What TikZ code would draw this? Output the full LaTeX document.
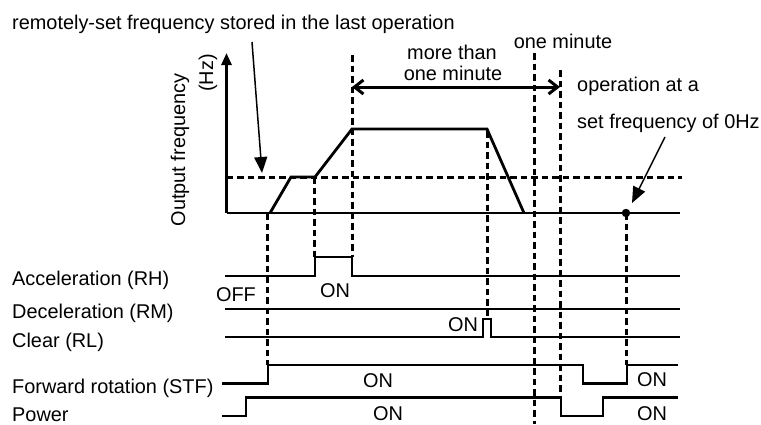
\documentclass[tikz,border=0pt]{standalone}
\usepackage{fontspec}
\setmainfont{Liberation Sans}
\usetikzlibrary{arrows.meta}
\begin{document}
\begin{tikzpicture}[x=1pt,y=-1pt,
  font=\fontsize{19.9}{24}\selectfont,
  sig/.style={line width=2.8pt, line join=miter, line cap=butt},
  guide/.style={line width=3pt, dash pattern=on 6.5pt off 4pt},
  lbl/.style={inner sep=0pt, anchor=base west},
  clbl/.style={inner sep=0pt, anchor=base},
  note/.style={line width=1.5pt, -{Triangle[length=16pt,width=13pt]}},
  span/.style={line width=3pt, {Straight Barb[length=9pt,width=14pt]}-{Straight Barb[length=9pt,width=14pt]}}]
\useasboundingbox (0,0) rectangle (761,424);

% ---- text labels
\node[lbl] (title) at (12,29.5) {remotely-set frequency stored in the last operation};
\node[lbl] (acc) at (12,285) {Acceleration (RH)};
\node[lbl] (dec) at (12,318) {Deceleration (RM)};
\node[lbl] (clr) at (12,347) {Clear (RL)};
\node[lbl] (stf) at (12,393) {Forward rotation (STF)};
\node[lbl] (pwr) at (12,421) {Power};
\node[clbl] (off) at (236,301) {OFF};
\node[clbl] (onacc) at (335,297) {ON};
\node[clbl] (onclr) at (463,331) {ON};
\node[clbl] (onstf) at (378,387) {ON};
\node[clbl] (onpwr) at (388,420) {ON};
\node[clbl] (onstf2) at (652,386) {ON};
\node[clbl] (onpwr2) at (652,420) {ON};
\node[clbl] (more1) at (452,59) {more than};
\node[clbl] (more2) at (453,80) {one minute};
\node[clbl] (onemin) at (563,48) {one minute};
\node[lbl] (opat1) at (577,91) {operation at a};
\node[lbl] (opat2) at (577,128) {set frequency of 0Hz};
\node[rotate=90, anchor=base, inner sep=0pt] (yl1) at (185,150) {Output frequency};
\node[rotate=90, anchor=base, inner sep=0pt] (yl2) at (213,73) {(Hz)};

% ---- key coordinates
\coordinate (o) at (226.5,213);
\coordinate (ytop) at (226.5,53);
\coordinate (xend) at (680,213);
\coordinate (dot) at (626,213);

% ---- axes
\draw[sig, -{Triangle[length=12pt,width=10pt]}] (o) -- (ytop);
\draw[sig] (o) -- (xend);

% ---- reference frequency (dashed)
\draw[guide] (226.5,177) -- (682,177);

% ---- output frequency curve
\draw[sig] (270,213) -- (291,177) -- (315,177) -- (352,129) -- (487,129) -- (524,213);

% ---- dashed time markers
\draw[guide] (267.5,213) -- (267.5,365);
\draw[guide] (314.5,177) -- (314.5,257);
\draw[guide] (352,55) -- (352,257);
\draw[guide] (487,131) -- (487,319);
\draw[guide] (534,53) -- (534,424);
\draw[guide] (560.5,70) -- (560.5,397);
\draw[guide] (626.5,213) -- (626.5,365);

% ---- signals
\draw[sig] (225,276) -- (315,276) -- (315,257) -- (352,257) -- (352,276) -- (680,276);
\draw[sig] (225,309) -- (680,309);
\draw[sig] (225,337) -- (483,337) -- (483,319) -- (491,319) -- (491,337) -- (680,337);
\draw[sig] (222,383.5) -- (268,383.5) -- (268,365) -- (583,365) -- (583,383.5) -- (627,383.5) -- (627,365) -- (678,365);
\draw[sig] (222,416) -- (246,416) -- (246,397.5) -- (561,397.5) -- (561,416) -- (603,416) -- (603,397.5) -- (678,397.5);

% ---- annotations
\coordinate (n1s) at (252,42);
\coordinate (n1e) at (262,173);
\draw[note] (n1s) -- (n1e);
\coordinate (n2s) at (665,137);
\coordinate (n2e) at (632,203);
\draw[note] (n2s) -- (n2e);
\fill (dot) circle (4.2pt);

\coordinate (sp1) at (352,87);
\coordinate (sp2) at (560,87);
\draw[span] (sp1) -- (sp2);
\end{tikzpicture}
\end{document}
